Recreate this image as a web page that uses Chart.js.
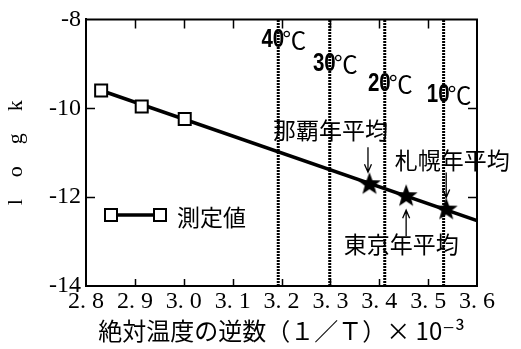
<!DOCTYPE html>
<html>
<head>
<meta charset="utf-8">
<script src="https://cdn.jsdelivr.net/npm/chart.js@4.4.1/dist/chart.umd.min.js"></script>
<style>
  html, body { margin: 0; padding: 0; background: #fff; }
  canvas { display: block; }
</style>
</head>
<body>
<canvas id="chart" width="521" height="349"></canvas>
<script>
// Measured rate constants (log k) against 1/T ×10^-3
const measuredX = [2.831, 2.914, 3.002];
const measuredLogK = [-9.60, -9.96, -10.24];

// End points of the fitted line, extended to the right edge
const fitX = [2.831, 3.6];
const fitLogK = [-9.60, -12.53];

// Annual mean temperatures of three cities, placed on the fitted line
const cityNames = ['那覇年平均', '東京年平均', '札幌年平均'];
const cityX = [3.380, 3.455, 3.537];
const cityLogK = [-11.71, -11.98, -12.28];

// Reference temperatures shown as dotted verticals
const tempsC = [40, 30, 20, 10];

// Axis ranges
const xRange = [2.8, 3.6];
const yRange = [-14, -8];

const invT = (c) => 1000 / (c + 273.15);

const SERIF = "'Liberation Serif', 'Times New Roman', serif";
const JP = "'Noto Sans CJK JP', 'Noto Sans', sans-serif";

function makeStar(R, r) {
  const c = document.createElement('canvas');
  const s = Math.ceil(R * 2 + 2);
  c.width = c.height = s;
  const g = c.getContext('2d');
  g.translate(s / 2, s / 2);
  g.beginPath();
  for (let i = 0; i < 10; i++) {
    const a = -Math.PI / 2 + i * Math.PI / 5;
    const rr = i % 2 ? r : R;
    g.lineTo(rr * Math.cos(a), rr * Math.sin(a));
  }
  g.closePath();
  g.fillStyle = '#000';
  g.fill();
  return c;
}
const starImg = makeStar(12, 5);

const datasets = [
  {
    label: '測定値',
    data: measuredX.map((x, i) => ({ x, y: measuredLogK[i] })),
    showLine: false,
    pointStyle: 'rect',
    pointRadius: 8.5,
    backgroundColor: '#fff',
    borderColor: '#000',
    borderWidth: 2
  },
  {
    label: 'cities',
    data: cityX.map((x, i) => ({ x, y: cityLogK[i] })),
    showLine: false,
    pointStyle: starImg,
    pointRadius: 12
  },
  {
    label: 'fit',
    data: fitX.map((x, i) => ({ x, y: fitLogK[i] })),
    showLine: true,
    borderColor: '#000',
    borderWidth: 3.5,
    pointRadius: 0
  },
  ...tempsC.map(t => ({
    label: t + '℃',
    data: [{ x: invT(t), y: yRange[0] }, { x: invT(t), y: yRange[1] }],
    showLine: true,
    borderColor: '#000',
    borderWidth: 3,
    borderDash: [2, 1],
    pointRadius: 0
  }))
];

// Frame, inward ticks, temperature labels, city notes and legend
const decorations = {
  id: 'decorations',
  afterDatasetsDraw(chart) {
    const { ctx, chartArea: a, scales: { x, y } } = chart;
    ctx.save();
    ctx.strokeStyle = '#000';
    ctx.fillStyle = '#000';

    // top and right edges of the frame
    ctx.lineWidth = 2;
    ctx.beginPath();
    ctx.moveTo(a.left, a.top); ctx.lineTo(a.right, a.top); ctx.lineTo(a.right, a.bottom);
    ctx.stroke();

    // inward tick marks
    ctx.lineWidth = 1.5;
    ctx.beginPath();
    x.ticks.forEach(t => {
      if (t.value <= xRange[0] + 1e-6 || t.value >= xRange[1] - 1e-6) return;
      const px = Math.round(x.getPixelForValue(t.value)) + 0.5;
      ctx.moveTo(px, a.top); ctx.lineTo(px, a.top + 9);
      ctx.moveTo(px, a.bottom); ctx.lineTo(px, a.bottom - 7);
    });
    y.ticks.forEach(t => {
      if (t.value <= yRange[0] || t.value >= yRange[1]) return;
      const py = Math.round(y.getPixelForValue(t.value)) + 0.5;
      ctx.moveTo(a.left, py); ctx.lineTo(a.left + 9, py);
      ctx.moveTo(a.right, py); ctx.lineTo(a.right - 9, py);
    });
    ctx.stroke();

    // temperature labels beside each dotted line (narrow bold digits)
    const tempLabelY = [39, 63, 83, 94];
    tempsC.forEach((t, i) => {
      const px = x.getPixelForValue(invT(t));
      const ly = tempLabelY[i];
      ctx.save();
      ctx.translate(px + 6, ly);
      ctx.scale(0.82, 1);
      ctx.textBaseline = 'middle';
      ctx.textAlign = 'right';
      ctx.font = "bold 25px 'Liberation Sans', sans-serif";
      ctx.fillText(String(t), 0, 1);
      ctx.restore();
      ctx.textBaseline = 'middle';
      ctx.textAlign = 'left';
      ctx.font = '24px ' + JP;
      ctx.fillText('℃', px + 4, ly + 1);
    });

    // city notes with arrows
    const notes = [
      { tx: -39, ty: -54, ax: -1.5, from: -37, to: -12 },
      { tx: -5, ty: 48, ax: 0, from: 40, to: 14 },
      { tx: 6, ty: -49, ax: 0, from: -37, to: -12 }
    ];
    ctx.font = '23px ' + JP;
    ctx.textAlign = 'center';
    ctx.textBaseline = 'middle';
    cityNames.forEach((name, i) => {
      const px = x.getPixelForValue(cityX[i]);
      const py = y.getPixelForValue(cityLogK[i]);
      const n = notes[i];
      ctx.fillText(name, px + n.tx, py + n.ty);
      const ax = px + n.ax;
      const y0 = py + n.from, y1 = py + n.to;
      const dir = Math.sign(y1 - y0);
      ctx.lineWidth = 1.3;
      ctx.beginPath();
      ctx.moveTo(ax, y0); ctx.lineTo(ax, y1);
      ctx.moveTo(ax - 3.5, y1 - dir * 8); ctx.lineTo(ax, y1); ctx.lineTo(ax + 3.5, y1 - dir * 8);
      ctx.stroke();
    });

    // legend: sample line with two open squares, then the label
    const ly = 215, lx0 = 111, lx1 = 160;
    ctx.lineWidth = 3.5;
    ctx.beginPath(); ctx.moveTo(lx0, ly); ctx.lineTo(lx1, ly); ctx.stroke();
    ctx.lineWidth = 2;
    [lx0, lx1].forEach(cx => {
      ctx.fillStyle = '#fff';
      ctx.fillRect(cx - 6, ly - 6, 12, 12);
      ctx.strokeRect(cx - 6, ly - 6, 12, 12);
    });
    ctx.fillStyle = '#000';
    ctx.font = '23px ' + JP;
    ctx.textAlign = 'left';
    ctx.fillText(datasets[0].label, 177, ly + 2);

    ctx.restore();
  }
};

new Chart(document.getElementById('chart'), {
  type: 'scatter',
  data: { datasets },
  options: {
    responsive: false,
    animation: false,
    events: [],
    layout: { padding: { top: 15, right: 44, left: 0, bottom: 0 } },
    plugins: { legend: { display: false }, tooltip: { enabled: false } },
    scales: {
      x: {
        type: 'linear',
        min: xRange[0],
        max: xRange[1],
        afterFit: (s) => { s.height = 63; },
        grid: { display: false, drawTicks: false },
        border: { display: true, color: '#000', width: 2 },
        ticks: {
          stepSize: 0.1,
          padding: 1,
          color: '#000',
          font: { family: SERIF, size: 24 },
          maxRotation: 0,
          autoSkip: false,
          callback: (v) => Number(v).toFixed(1).replace('.', '. ')
        },
        title: {
          display: true,
          text: '絶対温度の逆数（１／Ｔ）× 10⁻³',
          color: '#000',
          font: { family: "'Noto Sans CJK JP', 'DejaVu Serif', serif", size: 24 },
          padding: { top: 0, bottom: 4 }
        }
      },
      y: {
        type: 'linear',
        min: yRange[0],
        max: yRange[1],
        afterFit: (s) => { s.width = 86; },
        grid: { display: false, drawTicks: false },
        border: { display: true, color: '#000', width: 2 },
        ticks: {
          stepSize: 2,
          padding: 5,
          color: '#000',
          font: { family: SERIF, size: 24 },
          callback: (v) => String(v)
        },
        title: {
          display: true,
          text: 'l　o　g　k',
          color: '#000',
          font: { family: "'Liberation Serif', 'Noto Sans CJK JP', serif", size: 22 },
          padding: { top: 3, bottom: 0 }
        }
      }
    }
  },
  plugins: [decorations]
});
</script>
</body>
</html>
